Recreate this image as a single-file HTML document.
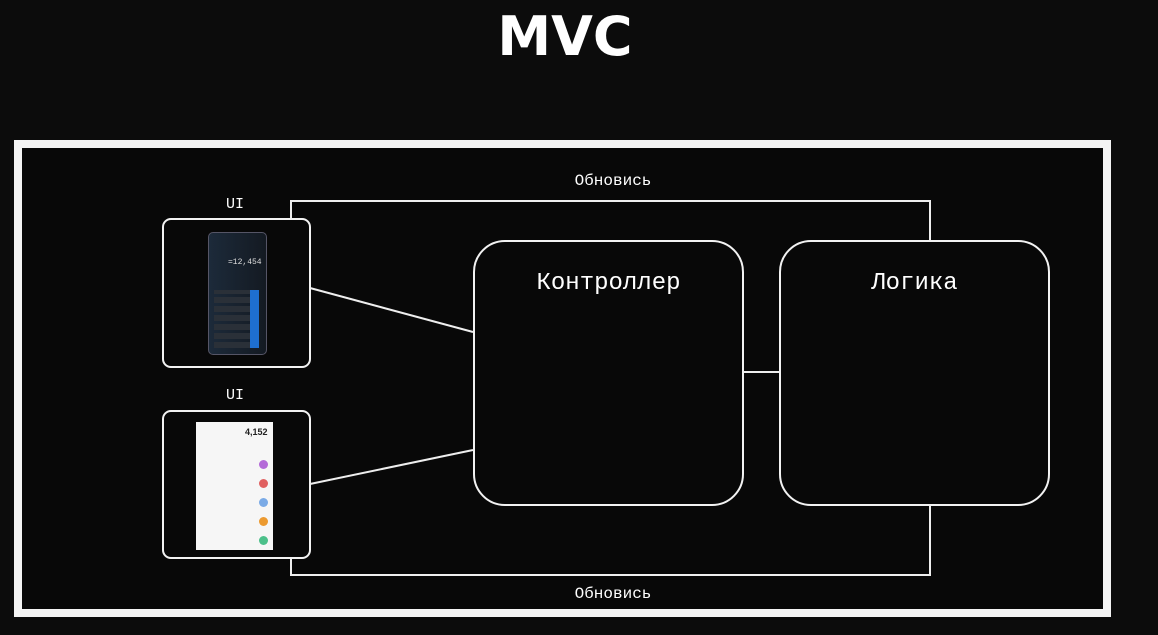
<!DOCTYPE html>
<html><head><meta charset="utf-8"><style>
body{margin:0;width:1158px;height:635px;background:#0c0c0c;overflow:hidden;position:relative;font-family:"Liberation Mono","DejaVu Sans Mono",monospace;color:#fff}
.a{position:absolute}
.box{position:absolute;border:2px solid #f2f2f2;box-sizing:border-box;background:#080808}
.t{position:absolute;text-align:center;white-space:nowrap}
</style></head><body>
<div class="t" style="left:480px;top:4px;width:170px;font:900 54px/66px 'DejaVu Sans','Liberation Sans',sans-serif;letter-spacing:0px">MVC</div>
<div class="a" style="left:14px;top:140px;width:1097px;height:477px;border:8px solid #f4f4f4;box-sizing:border-box;background:#080808"></div>
<svg class="a" style="left:0;top:0" width="1158" height="635">
<g stroke="#eee" stroke-width="2" fill="none">
<polyline points="291,218 291,201 930,201 930,240"/>
<polyline points="291,558 291,575 930,575 930,505"/>
<line x1="310" y1="288" x2="473" y2="332"/>
<line x1="310" y1="484" x2="473" y2="450"/>
<line x1="743" y1="372" x2="779" y2="372"/>
</g></svg>
<div class="box" style="left:162px;top:218px;width:149px;height:150px;border-radius:9px"></div>
<div class="box" style="left:162px;top:410px;width:149px;height:149px;border-radius:9px"></div>
<div class="a" style="left:208px;top:232px;width:57px;height:121px;border:1px solid #556;border-radius:5px;background:linear-gradient(90deg,#1c2a3a,#141a22)"></div>
<div class="a" style="left:214px;top:290px;width:45px;height:58px;background:repeating-linear-gradient(0deg,#2a3038 0 6px,transparent 6px 9px)"></div>
<div class="a" style="left:250px;top:290px;width:9px;height:58px;background:#1e6fd0"></div>
<div class="t" style="left:228px;top:258px;font-size:8px;color:#ddd">=12,454</div>
<div class="a" style="left:196px;top:422px;width:77px;height:128px;background:#f6f6f6"></div>
<div class="t" style="left:245px;top:427px;font:bold 9px sans-serif;color:#222">4,152</div>
<div class="a" style="left:259px;top:460px;width:9px;height:9px;border-radius:50%;background:#b46ad8"></div>
<div class="a" style="left:259px;top:479px;width:9px;height:9px;border-radius:50%;background:#e06060"></div>
<div class="a" style="left:259px;top:498px;width:9px;height:9px;border-radius:50%;background:#7aaae6"></div>
<div class="a" style="left:259px;top:517px;width:9px;height:9px;border-radius:50%;background:#ec9a30"></div>
<div class="a" style="left:259px;top:536px;width:9px;height:9px;border-radius:50%;background:#4cc08a"></div>
<div class="box" style="left:473px;top:240px;width:271px;height:266px;border-radius:32px"></div>
<div class="box" style="left:779px;top:240px;width:271px;height:266px;border-radius:32px"></div>
<div class="t" style="left:473px;top:270px;width:271px;font-size:24px">Контроллер</div>
<div class="t" style="left:779px;top:270px;width:271px;font-size:24px">Логика</div>
<div class="t" style="left:513px;top:172px;width:200px;font-size:16px">Обновись</div>
<div class="t" style="left:513px;top:585px;width:200px;font-size:16px">Обновись</div>
<div class="t" style="left:205px;top:196px;width:60px;font-size:15px">UI</div>
<div class="t" style="left:205px;top:387px;width:60px;font-size:15px">UI</div>
</body></html>
